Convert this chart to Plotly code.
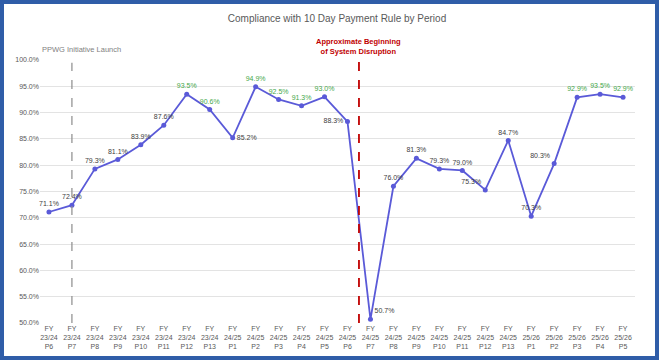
import plotly.graph_objects as go

periods = ["FY<br>23/24<br>P6", "FY<br>23/24<br>P7", "FY<br>23/24<br>P8", "FY<br>23/24<br>P9",
           "FY<br>23/24<br>P10", "FY<br>23/24<br>P11", "FY<br>23/24<br>P12", "FY<br>23/24<br>P13",
           "FY<br>24/25<br>P1", "FY<br>24/25<br>P2", "FY<br>24/25<br>P3", "FY<br>24/25<br>P4",
           "FY<br>24/25<br>P5", "FY<br>24/25<br>P6", "FY<br>24/25<br>P7", "FY<br>24/25<br>P8",
           "FY<br>24/25<br>P9", "FY<br>24/25<br>P10", "FY<br>24/25<br>P11", "FY<br>24/25<br>P12",
           "FY<br>24/25<br>P13", "FY<br>25/26<br>P1", "FY<br>25/26<br>P2", "FY<br>25/26<br>P3",
           "FY<br>25/26<br>P4", "FY<br>25/26<br>P5"]
compliance = [71.1, 72.4, 79.3, 81.1, 83.9, 87.6, 93.5, 90.6,
              85.2, 94.9, 92.5, 91.3, 93.0, 88.3, 50.7, 76.0,
              81.3, 79.3, 79.0, 75.3, 84.7, 70.3, 80.3, 92.9, 93.5, 92.9]
y_ticks = [50, 55, 60, 65, 70, 75, 80, 85, 90, 95, 100]
y_tick_labels = [f"{v:.1f}%" for v in y_ticks]

label_pos = ["top center"] * len(compliance)
label_pos[8] = "middle right"
label_pos[13] = "middle left"
label_pos[14] = "top right"
label_pos[19] = "top left"
label_pos[22] = "top left"
label_colors = ["#45A84A" if v >= 90 else "#404040" for v in compliance]

fig = go.Figure()
fig.add_trace(go.Scatter(
    x=list(range(len(periods))), y=compliance,
    mode="lines+markers+text",
    line=dict(color="#5A5AD8", width=1.8),
    marker=dict(color="#5A5AD8", size=5),
    text=[f"{v:.1f}%" for v in compliance],
    textposition=label_pos,
    textfont=dict(size=7, color=label_colors, family="Liberation Sans"),
    cliponaxis=False,
    showlegend=False,
))

L, R, T, B = 40, 25, 60, 38
W, H = 660, 361
pw, ph = W - L - R, H - T - B

def px(x):
    return (x - L) / pw

def py(y):
    return (H - B - y) / ph

fig.update_layout(
    width=W, height=H,
    margin=dict(l=L, r=R, t=T, b=B),
    paper_bgcolor="white", plot_bgcolor="white",
    font=dict(family="Liberation Sans", color="#595959"),
    title=dict(text="Compliance with 10 Day Payment Rule by Period",
               x=337 / W, xanchor="center", y=1 - 18 / H, yanchor="middle",
               font=dict(size=10, color="#595959")),
    xaxis=dict(tickmode="array", tickvals=list(range(len(periods))), ticktext=periods,
               range=[-0.39, 25.52], showgrid=False, zeroline=False, showline=False,
               ticks="", tickfont=dict(size=7, color="#595959")),
    yaxis=dict(range=[50, 100], tickvals=y_ticks, ticktext=y_tick_labels,
               showgrid=True, gridcolor="#E3E3E3", gridwidth=1, zeroline=False,
               showline=False, ticks="", tickfont=dict(size=7, color="#595959")),
)

fig.add_shape(type="line", xref="x", yref="y", x0=1, x1=1, y0=50, y1=99.5,
              line=dict(color="#8C8C8C", width=1.2, dash="dash"))
fig.add_shape(type="line", xref="x", yref="y", x0=13.5, x1=13.5, y0=50, y1=99.6,
              line=dict(color="#C00000", width=1.8, dash="dash"))
fig.add_shape(type="rect", xref="paper", yref="paper",
              x0=px(2), x1=px(657), y0=py(358), y1=py(2),
              line=dict(color="#2F5DA8", width=4), fillcolor="rgba(0,0,0,0)", layer="above")

fig.add_annotation(xref="paper", yref="paper", x=px(40), y=py(50), xanchor="left", yanchor="middle",
                   text="PPWG Initiative Launch", showarrow=False,
                   font=dict(size=7.5, color="#7F7F7F"))
fig.add_annotation(xref="x", yref="paper", x=13.5, y=py(46), xanchor="center", yanchor="middle",
                   text="<b>Approximate Beginning<br>of System Disruption</b>", showarrow=False,
                   font=dict(size=7.5, color="#C00000"))

fig.write_html("out.html", config={"displayModeBar": False},
               post_script="document.body.style.margin='0';document.body.style.overflow='hidden';")
